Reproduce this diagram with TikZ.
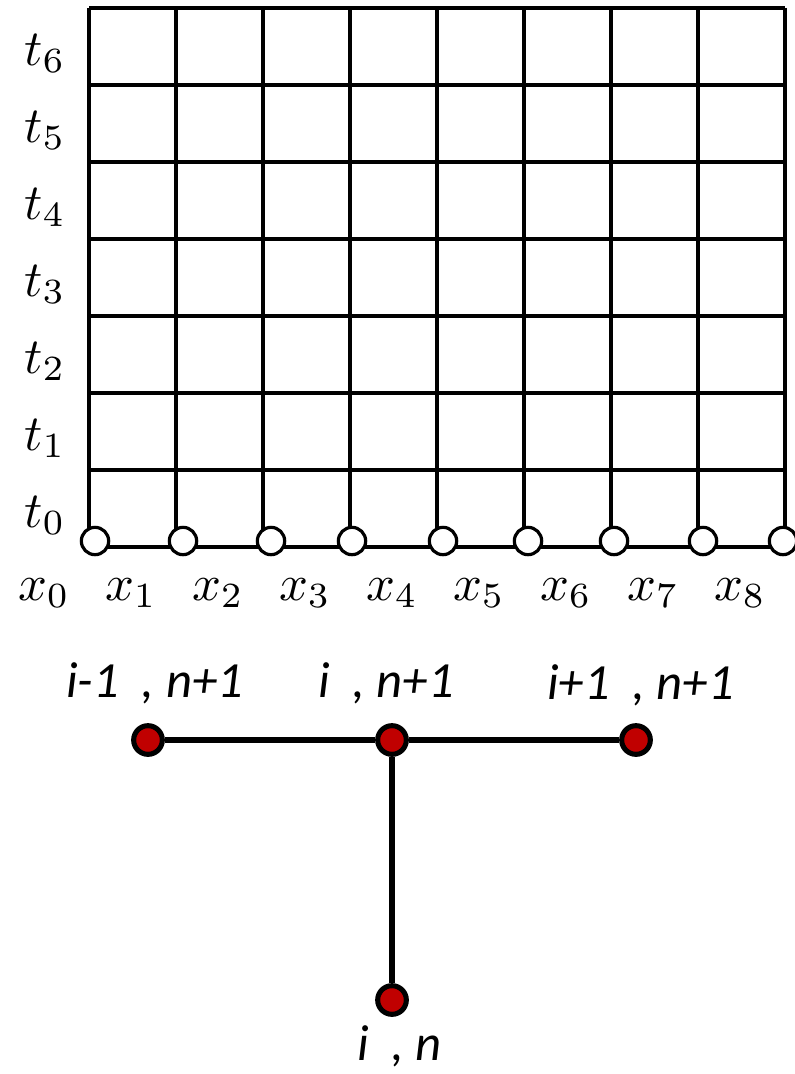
\documentclass[tikz,border=0pt]{standalone}
\usepackage{fontspec}
\newfontfamily\lblfont{Carlito}
\definecolor{ptred}{RGB}{192,0,0}

\begin{document}
\begin{tikzpicture}[x=0.75pt, y=-0.75pt,
 grid/.style={line width=2.5pt},
 knot/.style={circle, draw, line width=2.4pt, fill=white, minimum size=20.5pt, inner sep=0pt},
 tlab/.style={scale=3.8, anchor=base, inner sep=0pt},
 pt/.style={circle, draw, line width=3.8pt, fill=ptred, minimum size=21.5pt, inner sep=0pt},
 link/.style={line width=4pt},
 lab/.style={font=\lblfont\itshape\fontsize{38}{46}\selectfont, anchor=base west, inner sep=0pt},
]
\useasboundingbox (0,0) rectangle (794,1074);
\foreach \i in {0,...,8}
  \draw[grid] ({89+87*\i},8) -- ({89+87*\i},541);
\foreach \j in {0,...,6}
  \draw[grid] (89,{8+77*\j}) -- (785,{8+77*\j});
\draw[grid] (95,547) -- (794,547);
\foreach \cx [count=\i from 0] in {95,183,271,352,443,528,614,703,783}
  \node[knot] (m\i) at (\cx,541) {};
\foreach \j in {0,...,6}
  \node[tlab] (t\j) at (45,{527-77*\j}) {$t_{\j}$};
\foreach \i in {0,...,8}
  \node[tlab] (x\i) at ({44+87*\i},600) {$x_{\i}$};
\node[pt] (pw) at (148,740) {};
\node[pt] (pc) at (392,740) {};
\node[pt] (pe) at (636,740) {};
\node[pt] (ps) at (392,1000) {};
\draw[link] (pw) -- (pc) -- (pe);
\draw[link] (pc) -- (ps);
\node[lab] (lw) at (66,697) {i-1\ \ ,\ n+1};
\node[lab] (lc) at (318,697) {i\ \ ,\ n+1};
\node[lab] (le) at (547,699) {i+1\ \ ,\ n+1};
\node[lab] (ls) at (357,1060) {i\ \ ,\ n};
\end{tikzpicture}
\end{document}
